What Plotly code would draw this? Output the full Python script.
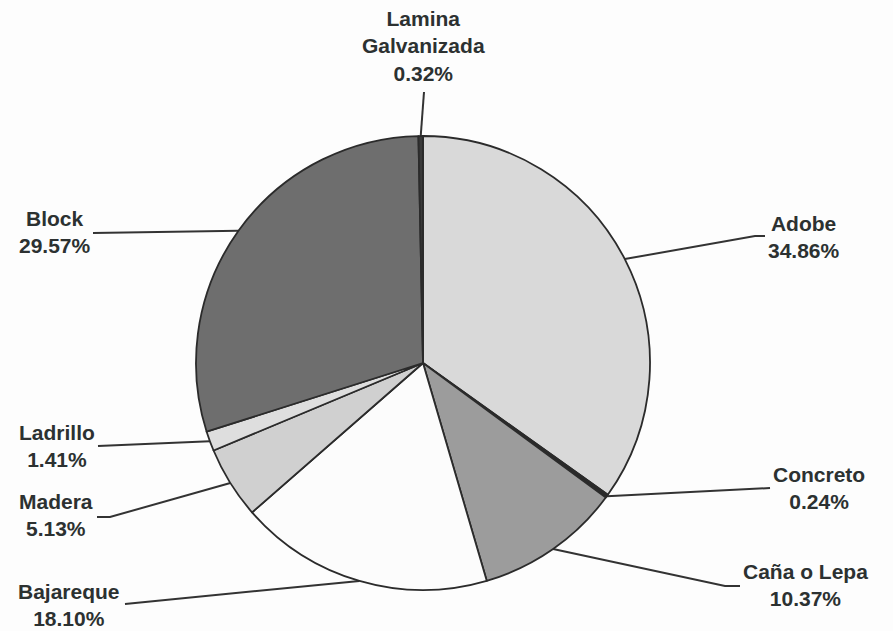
import math
import plotly.graph_objects as go

# ---- data ----
categories = ["Adobe", "Concreto", "Caña o Lepa", "Bajareque", "Madera",
              "Ladrillo", "Block", "Lamina<br>Galvanizada"]
percentages = [34.86, 0.24, 10.37, 18.10, 5.13, 1.41, 29.57, 0.32]
pct_labels = ["34.86%", "0.24%", "10.37%", "18.10%", "5.13%", "1.41%", "29.57%", "0.32%"]

# ---- styling / layout constants ----
W, H = 893, 631
CX, CY, R = 423, 363, 227
slice_colors = ["#d9d9d9", "#2a2a2a", "#9c9c9c", "#fcfcfc", "#d0d0d0",
                "#dedede", "#6e6e6e", "#3a3a3a"]
# text block centres (pixels) and leader-line end points near the text
text_pos = [(804, 237), (819, 488), (805, 585), (69, 605), (56, 515),
            (57, 446), (55, 232), (423, 46)]
line_end = [(765, 236), (770, 488), (740, 586), (125, 604), (97, 517),
            (98, 446), (93, 233), (424, 92)]
elbow = [10, 0, 15, 0, 13, 0, 0, 0]
TEXT_COLOR = "#2c3131"
LINE_COLOR = "#333333"

fig = go.Figure()

fig.add_trace(go.Pie(
    labels=categories,
    values=percentages,
    sort=False,
    direction="clockwise",
    rotation=0,
    textinfo="none",
    hoverinfo="label+percent",
    marker=dict(colors=slice_colors, line=dict(color="#2b2b2b", width=1.8)),
    domain=dict(x=[(CX - R) / W, (CX + R) / W],
                y=[(H - CY - R) / H, (H - CY + R) / H]),
    showlegend=False,
))

total = sum(percentages)
cum = 0.0
annotations = []
for i, v in enumerate(percentages):
    mid = (cum + v / 2) / total * 2 * math.pi
    cum += v
    ex = CX + R * math.sin(mid)
    ey = CY - R * math.cos(mid)
    lx, ly = line_end[i]
    xs, ys = [lx], [ly]
    if elbow[i]:
        d = elbow[i] if lx < CX else -elbow[i]
        xs.append(lx + d)
        ys.append(ly)
    xs.append(ex)
    ys.append(ey)
    fig.add_trace(go.Scatter(x=xs, y=ys, mode="lines",
                             line=dict(color=LINE_COLOR, width=2),
                             hoverinfo="skip", showlegend=False))
    tx, ty = text_pos[i]
    annotations.append(dict(
        x=tx, y=ty, xref="x", yref="y",
        text="<b>" + categories[i] + "<br>" + pct_labels[i] + "</b>",
        showarrow=False, align="center",
        xanchor="center", yanchor="middle",
        font=dict(family="Liberation Sans, Arial, sans-serif", size=21,
                  color=TEXT_COLOR),
    ))

fig.update_layout(
    width=W, height=H,
    margin=dict(l=0, r=0, t=0, b=0),
    paper_bgcolor="#fdfdfd",
    plot_bgcolor="rgba(0,0,0,0)",
    xaxis=dict(range=[0, W], visible=False, fixedrange=True),
    yaxis=dict(range=[H, 0], visible=False, fixedrange=True),
    annotations=annotations,
    showlegend=False,
)

fig.write_html("out.html",
               config={"displayModeBar": False},
               post_script="document.body.style.margin='0';"
                           "document.body.style.overflow='hidden';")
